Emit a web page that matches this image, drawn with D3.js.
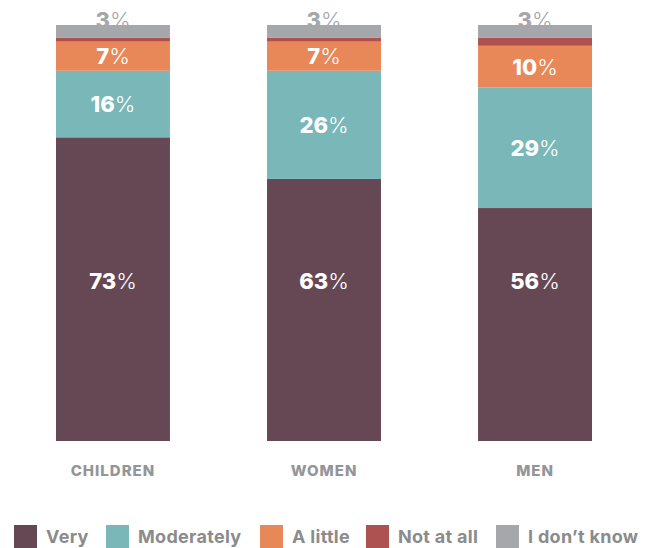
<!DOCTYPE html>
<html>
<head>
<meta charset="utf-8">
<script src="https://cdn.jsdelivr.net/npm/d3@7"></script>
<style>
  html, body { margin: 0; padding: 0; background: #ffffff; }
  svg { display: block; font-family: Inter, "Open Sans", sans-serif; }
</style>
</head>
<body>
<svg id="chart" width="654" height="548"></svg>
<script>
// Groups surveyed and response shares (percent)
const groups = ["CHILDREN", "WOMEN", "MEN"];
const responses = ["Very", "Moderately", "A little", "Not at all", "I don\u2019t know"];
const very       = [73, 63, 56];
const moderately = [16, 26, 29];
const aLittle    = [7, 7, 10];
const notAtAll   = [1, 1, 2];
const dontKnow   = [3, 3, 3];
const colors = ["#654853", "#79b7b8", "#e88758", "#ad5250", "#a6a7aa"];

const rows = groups.map((g, i) => ({
  group: g,
  "Very": very[i],
  "Moderately": moderately[i],
  "A little": aLittle[i],
  "Not at all": notAtAll[i],
  "I don\u2019t know": dontKnow[i]
}));

const svg = d3.select("#chart");

const x = d3.scaleBand().domain(groups).range([56, 592]).paddingInner(0.46).paddingOuter(0);
const y = d3.scaleLinear().domain([0, 100]).range([441, 25]);
const color = d3.scaleOrdinal().domain(responses).range(colors);

const series = d3.stack().keys(responses)(rows);

// Top "I don't know" labels sit behind the bars, partly hidden by the grey cap
const topLabels = svg.append("g");
rows.forEach(r => {
  const t = topLabels.append("text")
    .attr("x", x(r.group) + x.bandwidth() / 2)
    .attr("y", y(100) + 3)
    .attr("text-anchor", "middle")
    .attr("fill", "#a6a7aa")
    .style("font-size", "22px");
  t.append("tspan").attr("font-weight", 800).text(r["I don\u2019t know"]);
  t.append("tspan").attr("font-weight", 300).text("%");
});

// Stacked segments
svg.append("g")
  .selectAll("g")
  .data(series)
  .join("g")
  .attr("fill", d => color(d.key))
  .selectAll("rect")
  .data(d => d)
  .join("rect")
  .attr("x", d => x(d.data.group))
  .attr("y", d => y(d[1]))
  .attr("width", x.bandwidth())
  .attr("height", d => y(d[0]) - y(d[1]));

// Value labels inside segments (Very, Moderately, A little)
const veryLabelAt = 38.5;
const labelled = series.filter(s => ["Very", "Moderately", "A little"].includes(s.key));
labelled.forEach(s => {
  s.forEach(d => {
    const cy = s.key === "Very" ? y(veryLabelAt) : (y(d[0]) + y(d[1])) / 2;
    const t = svg.append("text")
      .attr("x", x(d.data.group) + x.bandwidth() / 2)
      .attr("y", cy)
      .attr("dy", "0.36em")
      .attr("text-anchor", "middle")
      .attr("fill", "#ffffff")
      .style("font-size", "22px");
    t.append("tspan").attr("font-weight", 800).text(d.data[s.key]);
    t.append("tspan").attr("font-weight", 300).text("%");
  });
});

// Category axis labels
const xAxis = svg.append("g")
  .attr("transform", `translate(0,${y(0)})`)
  .call(d3.axisBottom(x).tickSize(0).tickPadding(24));
xAxis.select(".domain").remove();
xAxis.selectAll("text")
  .attr("fill", "#939598")
  .style("font-family", "Inter, sans-serif")
  .style("font-size", "15px")
  .style("font-weight", 800)
  .style("letter-spacing", "1px");

// Legend
const legendX = [14, 106, 260, 366, 496];
const legend = svg.append("g").attr("transform", "translate(0,525)");
const items = legend.selectAll("g")
  .data(responses)
  .join("g")
  .attr("transform", (d, i) => `translate(${legendX[i]},0)`);
items.append("rect")
  .attr("width", 23)
  .attr("height", 23)
  .attr("fill", d => color(d));
items.append("text")
  .attr("x", 32)
  .attr("y", 11.5)
  .attr("dy", "0.36em")
  .attr("fill", "#8b8b8c")
  .style("font-size", "18px")
  .style("font-weight", 700)
  .style("letter-spacing", "0.3px")
  .text(d => d);
</script>
</body>
</html>
